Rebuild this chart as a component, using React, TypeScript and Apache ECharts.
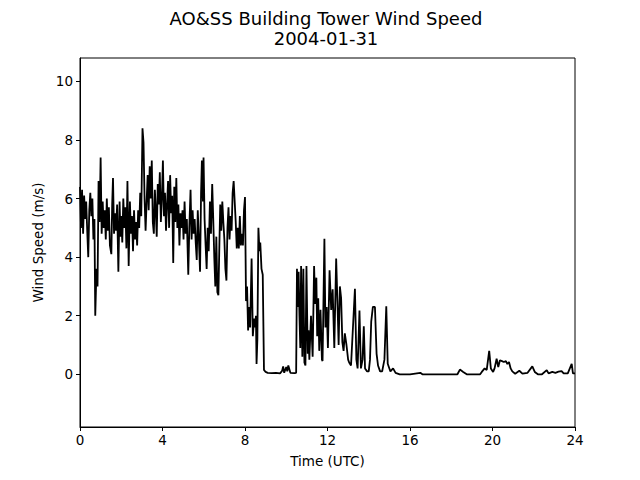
import React, { useEffect, useRef } from "react";
import * as echarts from "echarts";

const titleLines = ["AO&SS Building Tower Wind Speed", "2004-01-31"];
const xTicks = [0, 4, 8, 12, 16, 20, 24];
const yTicks = [0, 2, 4, 6, 8, 10];

// time (hours UTC) and wind speed (m/s)
const hours = [
  0.00, 0.05, 0.10, 0.15, 0.20, 0.25, 0.30, 0.35, 0.40, 0.45, 0.50, 0.55, 0.60, 0.65, 0.70, 0.74, 0.80, 0.85, 0.90, 0.95,
  1.00, 1.05, 1.10, 1.15, 1.20, 1.25, 1.30, 1.35, 1.40, 1.45, 1.52, 1.56, 1.60, 1.65, 1.70, 1.75, 1.80, 1.86, 1.92, 1.96,
  2.00, 2.05, 2.10, 2.15, 2.20, 2.25, 2.30, 2.36, 2.42, 2.47, 2.52, 2.57, 2.62, 2.67, 2.72, 2.77, 2.82, 2.87, 2.92, 2.97,
  3.03, 3.08, 3.13, 3.18, 3.23, 3.28, 3.33, 3.38, 3.43, 3.48, 3.53, 3.58, 3.63, 3.68, 3.72, 3.77, 3.82, 3.87, 3.92, 3.97,
  4.02, 4.07, 4.12, 4.17, 4.22, 4.27, 4.32, 4.37, 4.42, 4.47, 4.52, 4.57, 4.62, 4.67, 4.72, 4.77, 4.82, 4.87, 4.92, 4.97,
  5.02, 5.07, 5.12, 5.18, 5.25, 5.30, 5.36, 5.41, 5.46, 5.51, 5.56, 5.61, 5.66, 5.71, 5.76, 5.82, 5.87, 5.91, 5.96, 5.99,
  6.04, 6.09, 6.14, 6.19, 6.24, 6.30, 6.35, 6.41, 6.46, 6.51, 6.56, 6.61, 6.66, 6.71, 6.76, 6.80, 6.85, 6.90, 6.95, 7.00,
  7.05, 7.10, 7.15, 7.20, 7.25, 7.30, 7.35, 7.40, 7.45, 7.50, 7.55, 7.60, 7.65, 7.70, 7.75, 7.80, 7.85, 7.90, 7.95, 8.00,
  8.05, 8.10, 8.15, 8.20, 8.25, 8.32, 8.38, 8.44, 8.50, 8.53, 8.56, 8.60, 8.65, 8.70, 8.74, 8.80, 8.86, 8.92, 9.00, 9.10,
  9.30, 9.50, 9.70, 9.80, 9.85, 9.90, 10.00, 10.05, 10.10, 10.20, 10.40, 10.48, 10.52, 10.56, 10.60, 10.64, 10.68, 10.72, 10.78, 10.83,
  10.88, 10.93, 10.98, 11.04, 11.08, 11.12, 11.20, 11.28, 11.35, 11.40, 11.46, 11.50, 11.55, 11.60, 11.66, 11.73, 11.76, 11.85, 11.90, 11.96,
  12.02, 12.10, 12.18, 12.25, 12.33, 12.42, 12.48, 12.54, 12.60, 12.66, 12.72, 12.78, 12.84, 12.92, 13.00, 13.05, 13.14, 13.33, 13.40, 13.46,
  13.55, 13.62, 13.70, 13.76, 13.82, 13.92, 14.00, 14.06, 14.12, 14.20, 14.30, 14.38, 14.45, 14.55, 14.65, 14.76, 14.85, 14.92, 15.00, 15.05,
  15.18, 15.30, 15.50, 16.00, 16.50, 16.60, 17.50, 18.30, 18.42, 18.58, 18.75, 19.40, 19.48, 19.62, 19.72, 19.84, 19.92, 20.03, 20.10, 20.20,
  20.28, 20.36, 20.46, 20.55, 20.65, 20.72, 20.80, 20.88, 20.96, 21.10, 21.30, 21.45, 21.70, 21.93, 22.05, 22.20, 22.40, 22.63, 22.72, 22.90,
  23.05, 23.20, 23.35, 23.45, 23.65, 23.84, 23.90, 24.00,
];

const speeds = [
  6.4, 5.0, 6.3, 4.8, 6.1, 5.3, 5.9, 4.9, 4.0, 5.6, 6.2, 5.4, 6.0, 4.6, 5.3, 2.0, 3.6, 3.0, 6.6, 5.2,
  7.4, 4.8, 5.9, 5.0, 5.6, 4.6, 6.0, 4.9, 5.7, 4.4, 4.1, 5.8, 6.7, 4.8, 5.5, 4.9, 5.8, 3.5, 5.9, 4.7,
  5.4, 4.5, 6.0, 5.0, 5.7, 4.3, 6.6, 3.7, 5.9, 4.8, 5.4, 4.2, 5.6, 4.6, 5.2, 4.4, 5.6, 5.0, 6.2, 5.4,
  8.4, 7.9, 6.0, 4.9, 5.9, 6.8, 5.6, 7.1, 6.0, 7.3, 5.2, 4.8, 6.3, 5.5, 4.7, 6.5, 5.8, 6.9, 5.2, 6.0,
  7.3, 5.4, 6.2, 4.9, 5.8, 6.6, 5.0, 6.8, 5.5, 6.1, 3.8, 6.4, 5.2, 6.7, 5.0, 5.8, 4.4, 5.5, 5.0, 5.6,
  4.6, 5.9, 4.8, 5.3, 3.4, 5.0, 6.3, 4.6, 5.6, 4.8, 5.3, 4.5, 3.9, 5.6, 4.7, 3.5, 6.2, 7.3, 5.9, 7.4,
  5.3, 4.4, 3.6, 5.0, 4.2, 5.9, 4.8, 6.5, 5.3, 4.0, 3.0, 4.7, 2.8, 2.7, 4.5, 5.8, 4.9, 5.9, 5.2, 4.6,
  3.6, 3.2, 5.0, 5.7, 4.6, 5.4, 4.9, 6.2, 6.6, 5.9, 5.2, 4.3, 5.0, 4.3, 5.4, 4.4, 4.8, 4.4, 5.6, 6.05,
  2.5, 3.0, 1.5, 2.3, 1.6, 3.95, 1.3, 1.9, 1.6, 2.0, 0.35, 1.2, 5.0, 4.2, 4.5, 3.6, 3.4, 0.15, 0.08, 0.05,
  0.04, 0.05, 0.03, 0.12, 0.27, 0.05, 0.25, 0.1, 0.3, 0.05, 0.04, 0.05, 3.6, 2.3, 3.5, 2.0, 0.9, 3.7, 0.6, 3.6,
  0.4, 0.3, 3.7, 0.7, 1.5, 0.5, 2.0, 0.6, 3.7, 2.4, 3.3, 1.3, 2.6, 0.8, 2.2, 0.5, 0.45, 4.63, 1.6, 2.3,
  0.9, 3.55, 2.2, 2.9, 0.9, 3.95, 2.5, 1.0, 3.0, 2.6, 1.1, 0.8, 1.4, 1.0, 0.5, 0.4, 0.3, 2.92, 0.5, 0.2,
  2.18, 0.2, 0.5, 1.64, 0.2, 0.1, 0.1, 0.5, 1.8, 2.3, 2.3, 0.7, 0.3, 0.1, 0.1, 0.5, 2.32, 0.36, 0.2, 0.1,
  0.2, 0.05, 0.0, 0.0, 0.05, 0.0, 0.0, 0.0, 0.16, 0.08, 0.0, 0.0, 0.08, 0.2, 0.15, 0.8, 0.2, 0.08, 0.2, 0.53,
  0.25, 0.48, 0.45, 0.42, 0.45, 0.35, 0.42, 0.2, 0.1, 0.02, 0.12, 0.02, 0.05, 0.27, 0.08, 0.0, 0.0, 0.14, 0.03, 0.08,
  0.05, 0.09, 0.11, 0.03, 0.03, 0.36, 0.03, 0.03,
];

const FONT = "DejaVu Sans";

export default function App() {
  const ref = useRef<HTMLDivElement>(null);
  useEffect(() => {
    if (!ref.current) return;
    const chart = echarts.init(ref.current, undefined, { renderer: "svg" });
    const data = hours.map((h, i) => [h, speeds[i]]);
    chart.setOption({
      animation: false,
      backgroundColor: "#ffffff",
      title: {
        text: titleLines.join("\n"),
        left: 321,
        top: 3,
        textAlign: "center",
        textStyle: {
          fontFamily: FONT,
          fontSize: 18,
          fontWeight: "normal",
          color: "#000",
          lineHeight: 20,
        },
      },
      grid: {
        left: 80,
        right: 65,
        top: 58,
        bottom: 53,
        show: true,
        borderColor: "#000",
        borderWidth: 1,
        backgroundColor: "transparent",
      },
      xAxis: {
        type: "value",
        min: 0,
        max: 24,
        interval: 4,
        name: "Time (UTC)",
        nameLocation: "middle",
        nameGap: 27,
        nameTextStyle: { fontFamily: FONT, fontSize: 13.5, color: "#000" },
        axisLine: { show: true, onZero: false, lineStyle: { color: "#000", width: 1 } },
        axisTick: { show: true, inside: false, length: 4, lineStyle: { color: "#000" }, customValues: xTicks },
        axisLabel: { fontFamily: FONT, fontSize: 13.5, color: "#000", margin: 6, customValues: xTicks },
        splitLine: { show: false },
      },
      yAxis: {
        type: "value",
        min: -1.8,
        max: 10.8,
        name: "Wind Speed (m/s)",
        nameLocation: "middle",
        nameGap: 35,
        nameTextStyle: { fontFamily: FONT, fontSize: 13.5, color: "#000" },
        axisLine: { show: true, onZero: false, lineStyle: { color: "#000", width: 1 } },
        axisTick: { show: true, inside: false, length: 4, lineStyle: { color: "#000" }, customValues: yTicks },
        axisLabel: { fontFamily: FONT, fontSize: 13.5, color: "#000", margin: 7, customValues: yTicks },
        splitLine: { show: false },
      },
      series: [
        {
          type: "line",
          data,
          showSymbol: false,
          symbol: "none",
          lineStyle: { color: "#000", width: 1.8 },
          clip: true,
        },
      ],
    });
    return () => chart.dispose();
  }, []);
  return (
    <div
      ref={ref}
      style={{ position: "absolute", left: 0, top: 0, width: 640, height: 480 }}
    />
  );
}
